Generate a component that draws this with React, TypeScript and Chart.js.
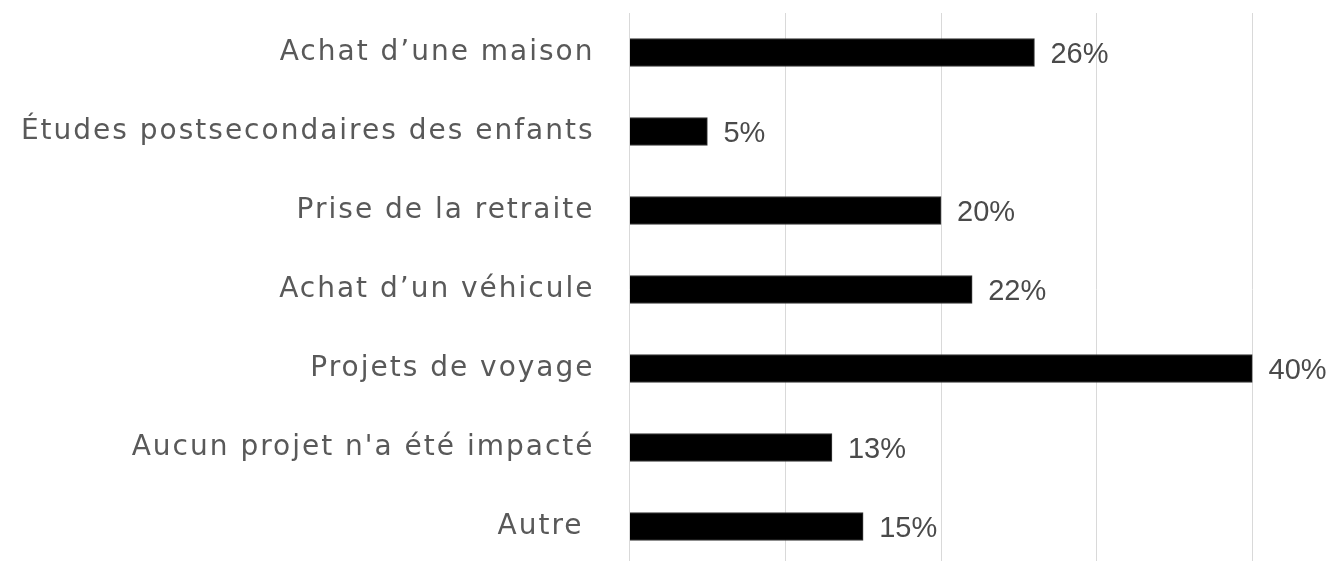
import React, { useEffect, useRef } from "react";
import { Chart, registerables } from "chart.js";

Chart.register(...registerables);

const categories = [
  "Achat d’une maison",
  "Études postsecondaires des enfants",
  "Prise de la retraite",
  "Achat d’un véhicule",
  "Projets de voyage",
  "Aucun projet n'a été impacté",
  "Autre ",
];
const values = [26, 5, 20, 22, 40, 13, 15];
const valueLabels = ["26%", "5%", "20%", "22%", "40%", "13%", "15%"];

const FONT = "'DejaVu Sans', sans-serif";
const VALUE_FONT = "'Liberation Sans', Arial, sans-serif";

const spacingPlugin = {
  id: "spacing",
  beforeDraw(chart: any) {
    (chart.ctx as any).letterSpacing = "2px";
  },
  afterDraw(chart: any) {
    (chart.ctx as any).letterSpacing = "0px";
  },
};

const valueLabelPlugin = {
  id: "valueLabels",
  afterDatasetsDraw(chart: any) {
    const ctx = chart.ctx;
    const meta = chart.getDatasetMeta(0);
    ctx.save();
    (ctx as any).letterSpacing = "0px";
    ctx.font = `29px ${VALUE_FONT}`;
    ctx.fillStyle = "#4a4a4a";
    ctx.textAlign = "left";
    ctx.textBaseline = "middle";
    meta.data.forEach((bar: any, i: number) => {
      ctx.fillText(valueLabels[i], bar.x + 16, bar.y + 2.5);
    });
    ctx.restore();
  },
};

export default function App() {
  const ref = useRef<HTMLCanvasElement | null>(null);
  useEffect(() => {
    if (!ref.current) return;
    const chart = new Chart(ref.current, {
      type: "bar",
      data: {
        labels: categories,
        datasets: [
          {
            data: values,
            backgroundColor: "#000000",
            borderColor: "#3a3a3a",
            borderWidth: 1,
            barThickness: 28,
          },
        ],
      },
      options: {
        indexAxis: "y",
        responsive: false,
        animation: false,
        layout: { padding: { top: 13, right: 83.5, left: 0, bottom: 0 } },
        plugins: {
          legend: { display: false },
          tooltip: { enabled: false },
        },
        scales: {
          x: {
            min: 0,
            max: 40,
            ticks: { display: false, stepSize: 10 },
            grid: { color: "#d9d9d9", lineWidth: 1, drawTicks: false },
            border: { display: false },
            afterFit: (scale: any) => {
              scale.height = 0;
              scale.paddingLeft = 0;
              scale.paddingRight = 0;
            },
          },
          y: {
            ticks: {
              color: "#595959",
              font: { family: FONT, size: 28 },
              padding: 35,
            },
            grid: { display: false, drawTicks: false },
            border: { display: false },
            afterFit: (scale: any) => {
              scale.width = 629.5;
              scale.paddingTop = 0;
              scale.paddingBottom = 0;
            },
          },
        },
      },
      plugins: [spacingPlugin, valueLabelPlugin],
    });
    return () => chart.destroy();
  }, []);
  return (
    <div style={{ position: "fixed", left: 0, top: 0, width: 1336, height: 566, background: "#fff" }}>
      <canvas ref={ref} width={1336} height={566} style={{ display: "block" }} />
    </div>
  );
}
